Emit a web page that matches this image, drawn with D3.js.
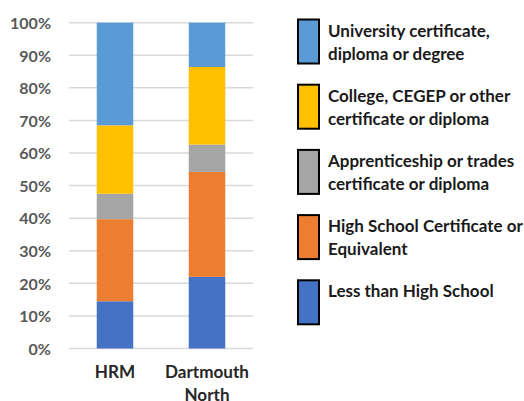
<!DOCTYPE html>
<html>
<head>
<meta charset="utf-8">
<script src="https://cdn.jsdelivr.net/npm/d3@7"></script>
<style>
  body { margin: 0; background: #fff; }
  svg text { font-family: Lato, "Open Sans", sans-serif; font-weight: bold; }
</style>
</head>
<body>
<svg id="chart" width="524" height="401"></svg>
<script>
// Data (shares of population)
var categories = ["HRM", "Dartmouth North"];
var lessThanHS   = [0.145, 0.220];
var highSchool   = [0.252, 0.322];
var apprentice   = [0.078, 0.084];
var college      = [0.210, 0.238];
var university   = [0.315, 0.136];
var yTicks = [0, 0.1, 0.2, 0.3, 0.4, 0.5, 0.6, 0.7, 0.8, 0.9, 1];
var legendLines = [
  ["University certificate,", "diploma or degree"],
  ["College, CEGEP or other", "certificate or diploma"],
  ["Apprenticeship or trades", "certificate or diploma"],
  ["High School Certificate or", "Equivalent"],
  ["Less than High School"]
];
var colors = ["#4472C4", "#ED7D31", "#A5A5A5", "#FFC000", "#5B9BD5"];

var svg = d3.select("#chart");

// fit a font size so that a sample text gets the wanted width
function fitSize(sample, width) {
  var t = svg.append("text").style("font-size", "20px").text(sample);
  var w = t.node().getComputedTextLength();
  t.remove();
  return 20 * width / w;
}
var tickSize = fitSize("100%", 41);
var catSize = fitSize("Dartmouth", 84);
var legSize = fitSize("High School Certificate or", 195);

var rows = categories.map(function (c, i) {
  return {cat: c, s0: lessThanHS[i], s1: highSchool[i], s2: apprentice[i], s3: college[i], s4: university[i]};
});
var stack = d3.stack().keys(["s0", "s1", "s2", "s3", "s4"])(rows);

// Scales
var x = d3.scaleBand().domain(categories).range([69, 253]).paddingInner(0.603).paddingOuter(0.3015);
var y = d3.scaleLinear().domain([0, 1]).range([348.5, 22.7]);

// Gridlines
svg.append("g")
  .selectAll("line")
  .data(yTicks)
  .enter().append("line")
  .attr("x1", 69).attr("x2", 253)
  .attr("y1", function (d) { return y(d); })
  .attr("y2", function (d) { return y(d); })
  .style("stroke", "#D9D9D9")
  .style("stroke-width", 1.5);

// Bars
svg.append("g")
  .selectAll("g")
  .data(stack)
  .enter().append("g")
  .style("fill", function (d, i) { return colors[i]; })
  .selectAll("rect")
  .data(function (d) { return d; })
  .enter().append("rect")
  .attr("x", function (d) { return x(d.data.cat); })
  .attr("width", x.bandwidth())
  .attr("y", function (d) { return y(d[1]); })
  .attr("height", function (d) { return y(d[0]) - y(d[1]); });

// Y axis
var yaxis = svg.append("g")
  .attr("transform", "translate(69,0)")
  .call(d3.axisLeft(y).tickValues(yTicks).tickSize(0).tickPadding(18).tickFormat(d3.format(".0%")));
yaxis.select(".domain").remove();
yaxis.selectAll("text")
  .style("font-family", null)
  .style("font-size", tickSize + "px")
  .style("fill", "#595959")
  .attr("dy", "0.36em");
yaxis.attr("font-family", null);

// X labels
svg.append("g")
  .selectAll("text")
  .data(categories)
  .enter().append("text")
  .attr("text-anchor", "middle")
  .attr("x", function (d) { return x(d) + x.bandwidth() / 2; })
  .attr("y", 378)
  .style("font-size", catSize + "px")
  .style("fill", "#262626")
  .each(function (d) {
    var parts = d.split(" ");
    var t = d3.select(this);
    parts.forEach(function (p, i) {
      t.append("tspan").attr("x", x(d) + x.bandwidth() / 2).attr("dy", i == 0 ? 0 : 23).text(p);
    });
  });

// Legend
var legend = svg.append("g").selectAll("g")
  .data(legendLines)
  .enter().append("g")
  .attr("transform", function (d, i) { return "translate(297," + (18.5 + i * 65.2) + ")"; });
legend.append("rect")
  .attr("x", 1).attr("y", 1)
  .attr("width", 21).attr("height", 44)
  .style("fill", function (d, i) { return colors[4 - i]; })
  .style("stroke", "#000")
  .style("stroke-width", 2);
legend.append("text")
  .attr("x", 31)
  .attr("y", 18)
  .style("font-size", legSize + "px")
  .style("fill", "#1a1a1a")
  .each(function (d) {
    var t = d3.select(this);
    d.forEach(function (line, i) {
      t.append("tspan").attr("x", 31).attr("dy", i == 0 ? 0 : 23).text(line);
    });
  });
</script>
</body>
</html>
